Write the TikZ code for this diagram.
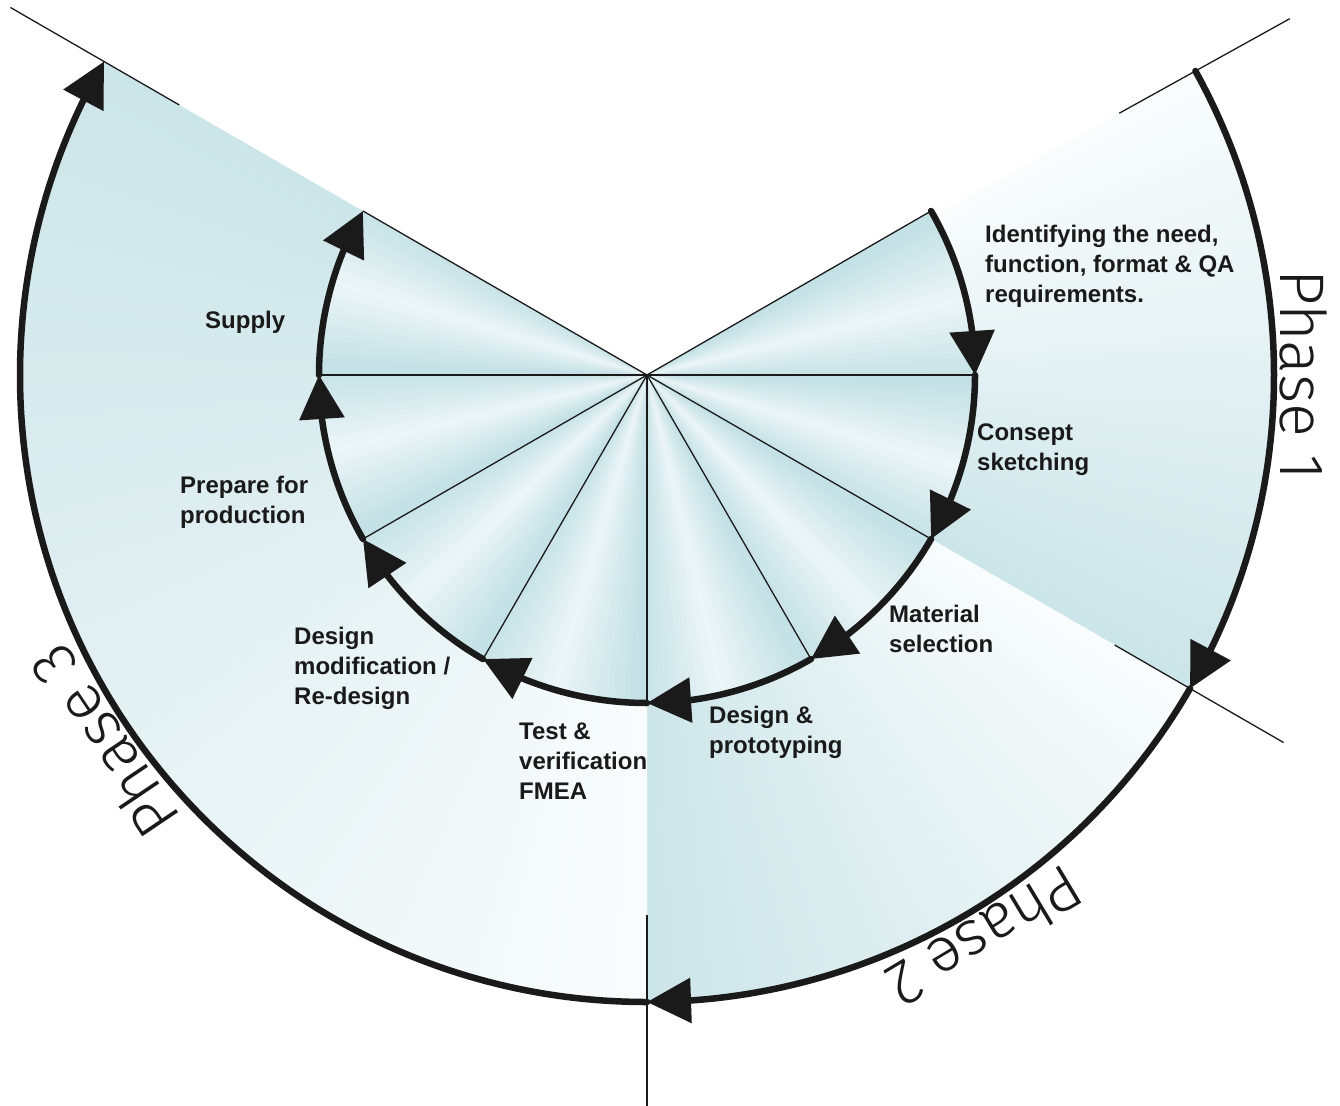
\documentclass[tikz,border=0pt]{standalone}
\usepackage{fontspec}
\setmainfont{Liberation Sans}
\newfontfamily\phasefont{Fira Sans Light}
\usetikzlibrary{arrows.meta,bending,calc}
\definecolor{pblue}{RGB}{204,229,232}
\definecolor{plight}{RGB}{249,252,253}
\definecolor{fblue}{RGB}{196,225,229}
\definecolor{fwhite}{RGB}{247,251,252}
\definecolor{ink}{RGB}{26,26,26}
\begin{document}
\begin{tikzpicture}[x=1pt,y=1pt,
  spoke/.style={ink, line width=1.3pt},
  flow/.style={ink, line width=6.5pt, line cap=round, -{Triangle[length=44pt,width=44pt,flex]}},
  lbl/.style={font=\bfseries\fontsize{24}{30}\selectfont, align=left, anchor=north west, inner sep=0pt, text=ink},
  phase/.style={font=\phasefont\fontsize{63}{70}\selectfont, inner sep=0pt, anchor=base, text=ink}
]
\useasboundingbox (0,0) rectangle (1340,-1105);
\coordinate (C) at (647,-375);

% phase sectors with angular gradient
\foreach \ss/\ee in {29/-30,-30/-90,-90/-210} {
  \pgfmathtruncatemacro\nn{\ss-\ee-1}
  \foreach \ii in {0,...,\nn} {
    \pgfmathsetmacro\aa{\ss-\ii}
    \pgfmathsetmacro\bb{max(\aa-1.6,\ee)}
    \pgfmathtruncatemacro\pp{100*\ii/\nn}
    \fill[pblue!\pp!plight] (C) -- ($(C)+(\aa:627)$) arc[start angle=\aa, end angle=\bb, radius=627] -- cycle;
  }
}

% inner fan wedges
\foreach \ss in {30,0,...,-180} {
  \foreach \ii in {0,...,29} {
    \pgfmathsetmacro\aa{\ss-\ii}
    \pgfmathsetmacro\bb{max(\aa-1.6,\ss-30)}
    \pgfmathtruncatemacro\pp{min(100,22+160*abs((\ii+0.5)/30-0.55))}
    \fill[fblue!\pp!fwhite] (C) -- ($(C)+(\aa:328)$) arc[start angle=\aa, end angle=\bb, radius=328] -- cycle;
  }
}

% spokes
\foreach \ang [count=\k] in {30,0,...,-210} {
  \coordinate (s\k) at ($(C)+(\ang:328)$);
  \draw[spoke] (C) -- (s\k);
}

% outer radial lines
\foreach \ang [count=\k] in {29,-30,-90,150} {
  \coordinate (oa\k) at ($(C)+(\ang:540)$);
  \coordinate (ob\k) at ($(C)+(\ang:735)$);
  \draw[spoke] (oa\k) -- (ob\k);
}

% inner flow arrows
\foreach \ss [count=\k] in {30,0,...,-180} {
  \coordinate (f\k) at ($(C)+(\ss:328)$);
  \draw[flow] (f\k) arc[start angle=\ss, end angle=\ss-30, radius=328];
}

% outer phase arrows
\coordinate (p1) at ($(C)+(29:627)$);
\coordinate (p2) at ($(C)+(-30:627)$);
\coordinate (p3) at ($(C)+(-90:627)$);
\draw[flow] (p1) arc[start angle=29, end angle=-30, radius=627];
\draw[flow] (p2) arc[start angle=-30, end angle=-90, radius=627];
\draw[flow] (p3) arc[start angle=-90, end angle=-210, radius=627];

% labels
\node[lbl] (l1) at (985,-225) {Identifying the need,\\function, format \& QA\\requirements.};
\node[lbl] (l2) at (977,-424) {Consept\\sketching};
\node[lbl] (l3) at (889,-605) {Material\\selection};
\node[lbl] (l4) at (709,-706) {Design \&\\prototyping};
\node[lbl] (l5) at (519,-723) {Test \&\\verification\\FMEA};
\node[lbl] (l6) at (294,-627) {Design\\modification /\\Re-design};
\node[lbl] (l7) at (180,-476) {Prepare for\\production};
\node[lbl] (l8) at (205,-311) {Supply};

% phase labels
\node[phase, rotate=-90] (ph1) at ($(C)+(0:633)$) {Phase 1};
\node[phase, rotate=-149] (ph2) at ($(C)+(-59:633)$) {Phase 2};
\node[phase, rotate=124] (ph3) at ($(C)+(-146:633)$) {Phase 3};
\end{tikzpicture}
\end{document}
